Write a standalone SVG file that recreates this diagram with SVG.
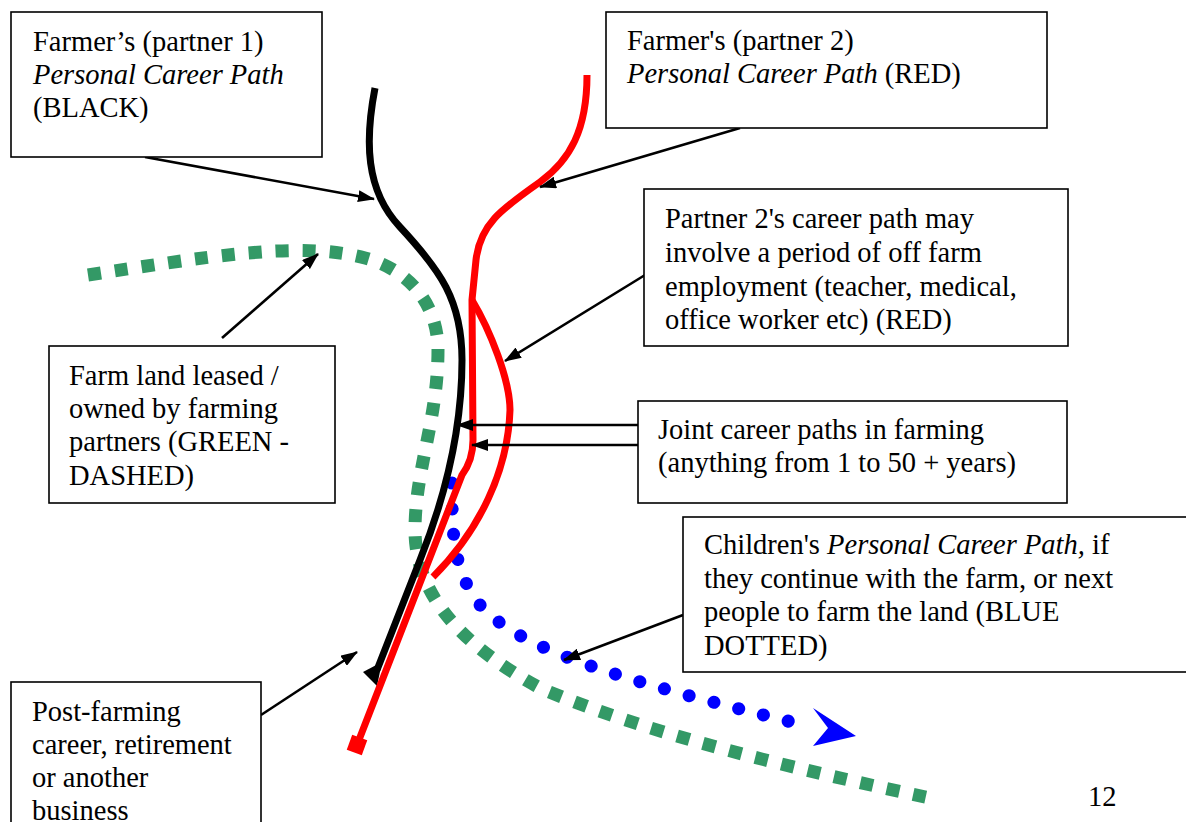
<svg xmlns="http://www.w3.org/2000/svg" width="1186" height="822" viewBox="0 0 1186 822">
<style>
.box{fill:#fff;stroke:#000;stroke-width:1.6}
.i{font-style:italic}
.con{stroke:#000;stroke-width:2.6;fill:none;marker-end:url(#ah)}
.blk{stroke:#000;stroke-width:7;fill:none}
.red{stroke:#f00;stroke-width:7;fill:none}
.grn{stroke:#339966;stroke-width:13;fill:none;stroke-dasharray:13 14}
.blu{stroke:#00f;stroke-width:13;fill:none;stroke-dasharray:0.1 25.5;stroke-linecap:round}
</style>
<defs>
<marker id="ah" markerUnits="userSpaceOnUse" markerWidth="17" markerHeight="12" refX="16" refY="6" orient="auto" viewBox="0 0 17 12">
<path d="M0,0 L17,6 L0,12 z" fill="#000"/>
</marker>
</defs>
<rect width="1186" height="822" fill="#fff"/>

<g id="paths">
<path class="grn" d="M88,275 C 200,258 300,240 365,258 C 410,270 438,305 438,350 C 438,420 415,470 415,530 C 415,600 470,650 540,688 C 650,735 800,770 930,798"/>
<path class="blu" d="M452,483 C 452,530 452,570 480,605 C 520,650 620,680 808,726"/>
<polygon points="813,708 856,736 813,746 828,728" fill="#00f"/>
<path class="blk" d="M375,88 C 365,140 365,190 400,227 C 440,270 462,300 462,360 C 462,440 440,510 420,560 L 377,670"/>
<polygon points="363,672 382,662 377,686" fill="#000"/>
<path class="red" d="M587,75 C 587,130 570,160 540,182 C 500,210 480,225 476,260 L 472,300 L 473,440 Q 473,460 462,475 L 357,745"/>
<path class="red" d="M472,300 C 490,330 510,380 510,410 C 508,470 480,530 433,577"/>
<rect x="349" y="737" width="16" height="16" fill="#f00" transform="rotate(20 357 745)"/>
</g>

<g id="connectors">
<line class="con" x1="145" y1="157" x2="374" y2="199"/>
<line class="con" x1="740" y1="128" x2="540" y2="187"/>
<line class="con" x1="645" y1="275" x2="505" y2="361"/>
<line class="con" x1="638" y1="425" x2="457" y2="425"/>
<line class="con" x1="638" y1="445" x2="472" y2="445"/>
<line class="con" x1="683" y1="615" x2="564" y2="660"/>
<line class="con" x1="222" y1="338" x2="318" y2="254"/>
<line class="con" x1="261" y1="715" x2="357" y2="652"/>
</g>

<g font-family="Liberation Serif, Times New Roman, DejaVu Serif, serif" font-size="28.5" fill="#000">
<g id="node-partner1">
<rect class="box" x="11" y="12" width="311" height="145"/>
<text x="33" y="51">Farmer’s (partner 1)</text>
<text class="i" x="33" y="84">Personal Career Path</text>
<text x="33" y="117">(BLACK)</text>
</g>

<g id="node-partner2">
<rect class="box" x="606" y="12" width="441" height="116"/>
<text x="627" y="50">Farmer's (partner 2)</text>
<text x="627" y="83"><tspan class="i">Personal Career Path</tspan> (RED)</text>
</g>

<g id="node-offfarm">
<rect class="box" x="644" y="189" width="424" height="157"/>
<text x="665" y="228">Partner 2's career path may</text>
<text x="665" y="262">involve a period of off farm</text>
<text x="665" y="296">employment (teacher, medical,</text>
<text x="665" y="329">office worker etc) (RED)</text>
</g>

<g id="node-joint">
<rect class="box" x="638" y="401" width="429" height="102"/>
<text x="658" y="439">Joint career paths in farming</text>
<text x="658" y="472">(anything from 1 to 50 + years)</text>
</g>

<g id="node-children">
<rect class="box" x="683" y="517" width="510" height="155"/>
<text x="704" y="554">Children's <tspan class="i">Personal Career Path,</tspan> if</text>
<text x="704" y="588">they continue with the farm, or next</text>
<text x="704" y="621">people to farm the land (BLUE</text>
<text x="704" y="655">DOTTED)</text>
</g>

<g id="node-land">
<rect class="box" x="49" y="346" width="286" height="157"/>
<text x="69" y="385">Farm land leased /</text>
<text x="69" y="418">owned by farming</text>
<text x="69" y="451">partners (GREEN -</text>
<text x="69" y="485">DASHED)</text>
</g>

<g id="node-post">
<rect class="box" x="11" y="682" width="250" height="150"/>
<text x="32" y="721">Post-farming</text>
<text x="32" y="754">career, retirement</text>
<text x="32" y="787">or another</text>
<text x="32" y="820">business</text>
</g>

<text x="1088" y="806">12</text>
</g>
</svg>
